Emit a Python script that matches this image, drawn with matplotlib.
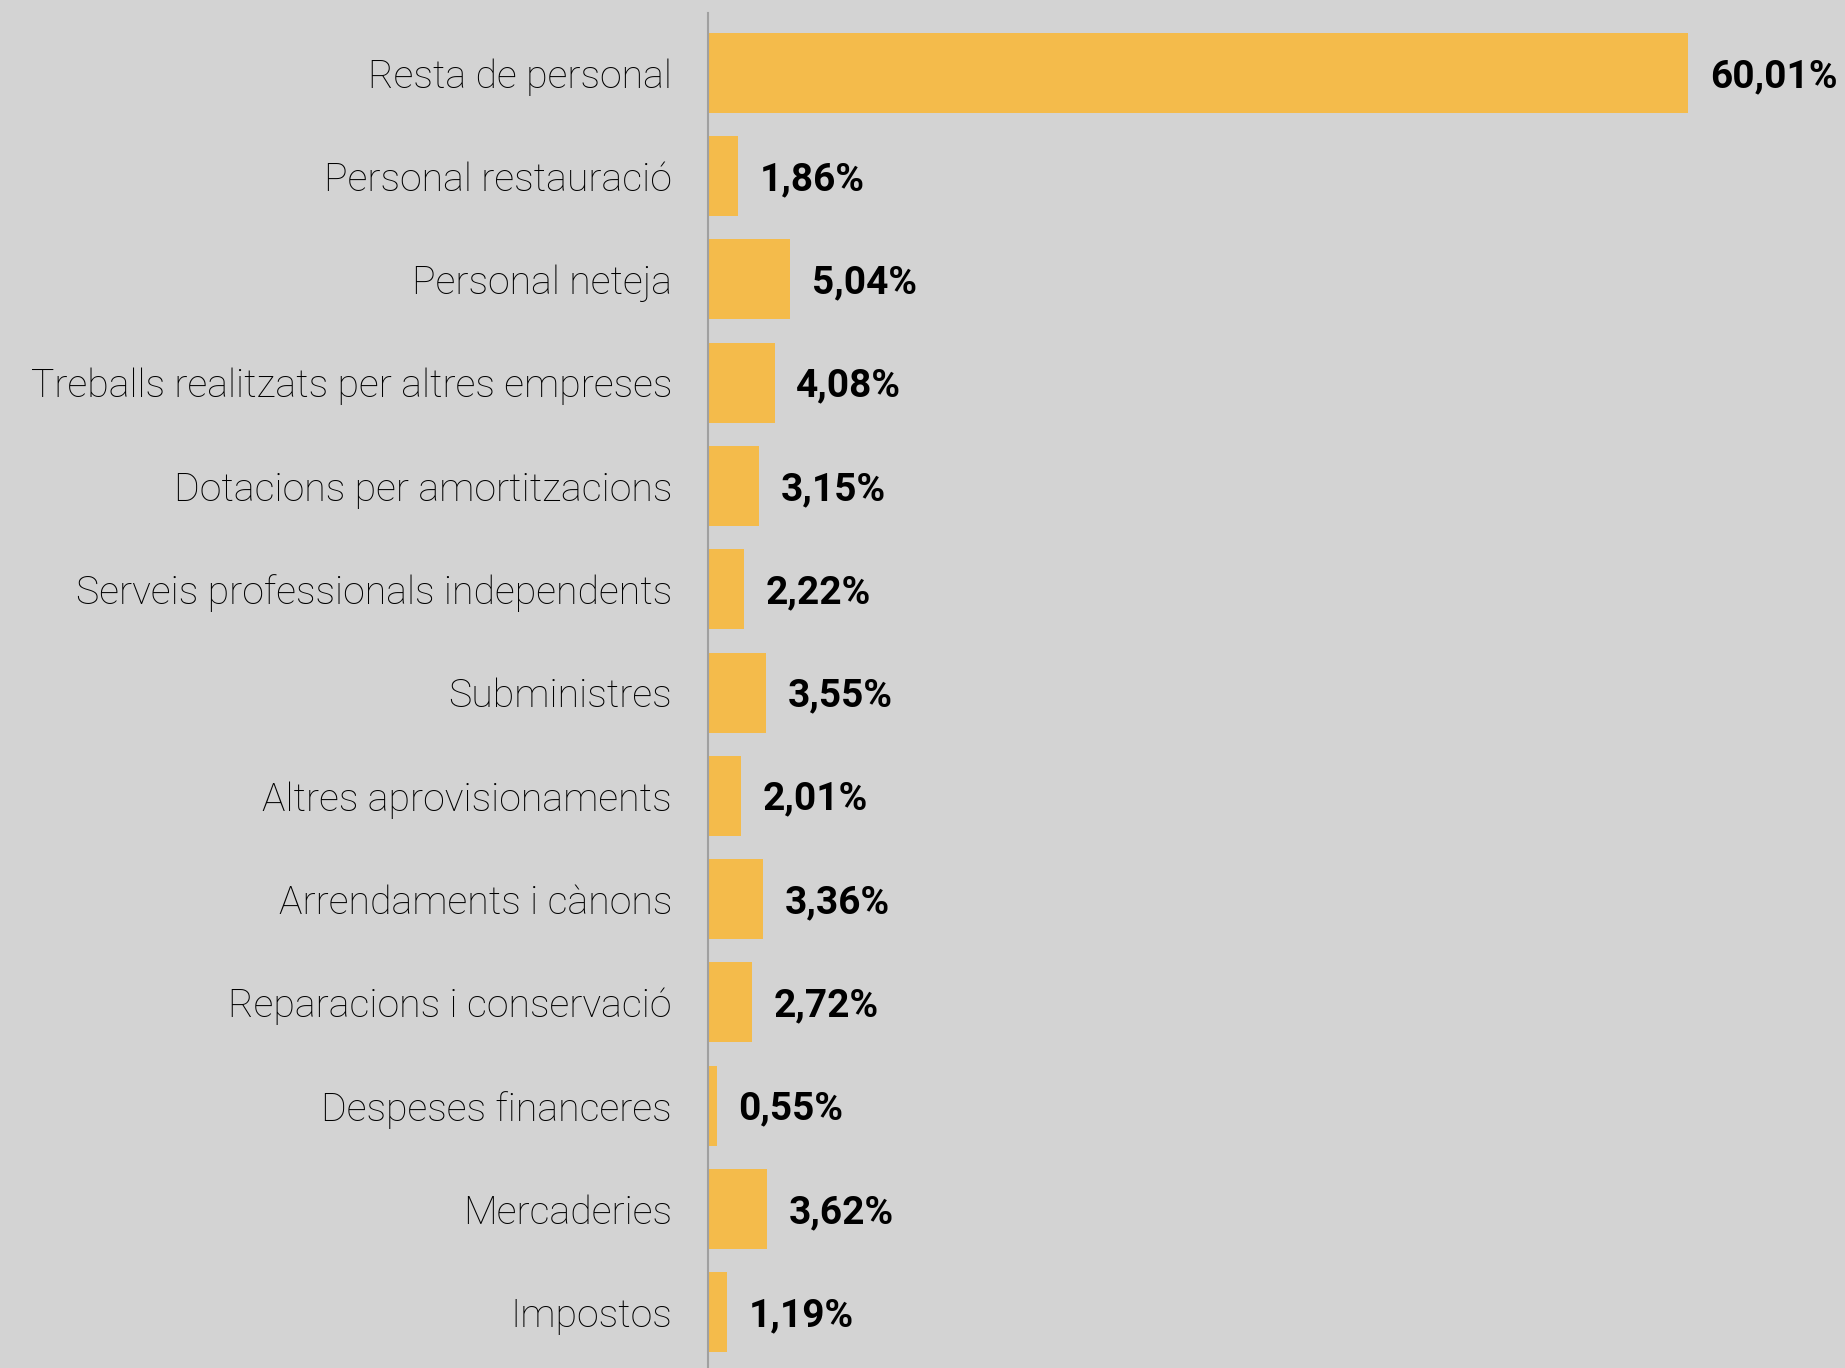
import matplotlib.pyplot as plt

# categories and percentages (top to bottom)
categories = ["Resta de personal", "Personal restauració", "Personal neteja",
              "Treballs realitzats per altres empreses", "Dotacions per amortitzacions",
              "Serveis professionals independents", "Subministres",
              "Altres aprovisionaments", "Arrendaments i cànons",
              "Reparacions i conservació", "Despeses financeres",
              "Mercaderies", "Impostos"]
values = [60.01, 1.86, 5.04, 4.08, 3.15, 2.22, 3.55, 2.01, 3.36, 2.72, 0.55, 3.62, 1.19]
value_labels = ["60,01%", "1,86%", "5,04%", "4,08%", "3,15%", "2,22%", "3,55%",
                "2,01%", "3,36%", "2,72%", "0,55%", "3,62%", "1,19%"]

bg = "#d3d3d3"
bar_color = "#f4bb4b"

fig = plt.figure(figsize=(18.45, 13.68), dpi=100, facecolor=bg)
ax = fig.add_axes([708 / 1845, 0, 1 - 708 / 1845, 1 - 13 / 1368])
ax.set_facecolor(bg)

pos = list(range(len(categories)))
ax.barh(pos, values, height=0.775, color=bar_color)

# value labels after each bar
for p, v, lab in zip(pos, values, value_labels):
    ax.annotate(lab, (v, p), xytext=(15.5, -2.5), textcoords="offset points",
                ha="left", va="center", fontsize=28, fontfamily="Roboto",
                fontweight="bold", color="#000000")

ax.set_xlim(0, 69.6)
ax.set_ylim(12.54, -0.58)
ax.set_yticks(pos)
ax.set_yticklabels(categories, fontsize=28.3, fontfamily="Roboto",
                   fontweight="light", color="#000000")
ax.tick_params(axis="y", length=0, pad=26)
ax.set_xticks([])

for s in ["top", "right", "bottom"]:
    ax.spines[s].set_visible(False)
ax.spines["left"].set_color("#a0a0a0")
ax.spines["left"].set_linewidth(1.5)

fig.savefig("out.png", dpi=100, facecolor=bg)
